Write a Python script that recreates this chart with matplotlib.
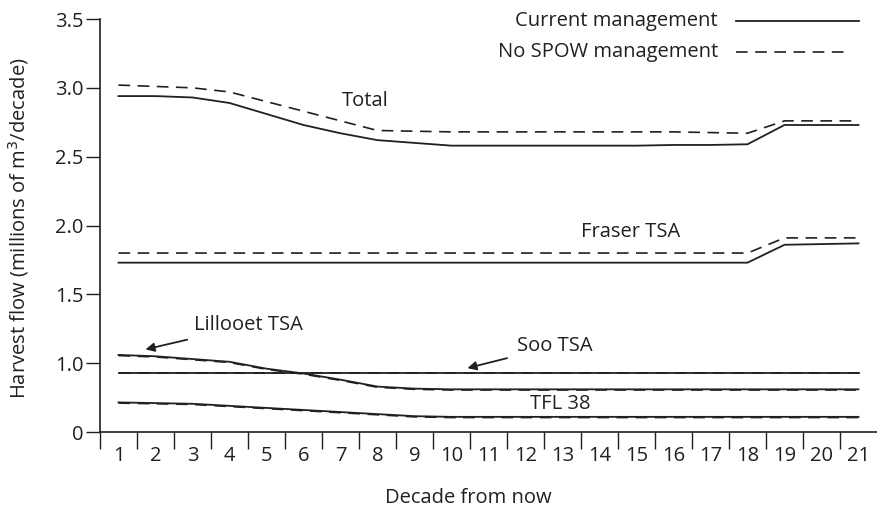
import numpy as np
import matplotlib
matplotlib.use("Agg")
import matplotlib.pyplot as plt

plt.rcParams['font.family'] = ['Open Sans', 'DejaVu Sans']

# decades 1..21
decades = np.arange(1, 22)

# values on the chart's visual scale (axis is broken: "0" sits where 0.5 would be)
total_cur = [2.94, 2.94, 2.93, 2.89, 2.81, 2.73, 2.67, 2.62, 2.60, 2.58, 2.58, 2.58, 2.58,
             2.58, 2.58, 2.585, 2.585, 2.59, 2.73, 2.73, 2.73]
total_nospow = [3.02, 3.01, 3.00, 2.97, 2.90, 2.83, 2.76, 2.69, 2.685, 2.68, 2.68, 2.68,
                2.68, 2.68, 2.68, 2.68, 2.675, 2.67, 2.76, 2.76, 2.76]
fraser_cur = [1.73] * 18 + [1.86, 1.865, 1.87]
fraser_nospow = [1.80] * 18 + [1.91, 1.91, 1.91]
lillooet_cur = [1.06, 1.05, 1.03, 1.01, 0.96, 0.925, 0.88, 0.83, 0.815] + [0.81] * 12
lillooet_nospow = [1.055, 1.045, 1.025, 1.005, 0.955, 0.92, 0.875, 0.825, 0.81] + [0.805] * 12
soo_cur = [0.93] * 21
soo_nospow = [0.925] * 21
tfl_cur = [0.715, 0.71, 0.705, 0.69, 0.675, 0.66, 0.645, 0.63, 0.615] + [0.61] * 12
tfl_nospow = [0.71, 0.705, 0.70, 0.685, 0.67, 0.655, 0.64, 0.625, 0.61] + [0.605] * 12

ytick_pos = [0.5, 1.0, 1.5, 2.0, 2.5, 3.0, 3.5]
ytick_labels = ['0', '1.0', '1.5', '2.0', '2.5', '3.0', '3.5']

ink = '#231f20'
fs = 14.5
dash = (7, 4.5)

fig = plt.figure(figsize=(8.77, 5.11), dpi=100)
ax = fig.add_axes([100 / 877, 79 / 511, 777 / 877, 413 / 511])

pairs = [(total_cur, total_nospow), (fraser_cur, fraser_nospow),
         (lillooet_cur, lillooet_nospow), (soo_cur, soo_nospow), (tfl_cur, tfl_nospow)]
for cur, nos in pairs:
    ax.plot(decades, nos, color=ink, lw=1.2, dashes=dash)
    ax.plot(decades, cur, color=ink, lw=1.3)

ax.set_xlim(0.5, 21.5)
ax.set_ylim(0.5, 3.5)
for s in ['top', 'right']:
    ax.spines[s].set_visible(False)
for s in ['left', 'bottom']:
    ax.spines[s].set_color(ink)
    ax.spines[s].set_linewidth(1.2)

ax.set_yticks(ytick_pos)
ax.set_yticklabels(ytick_labels)
ax.tick_params(axis='y', length=10, width=1, color=ink, labelsize=fs, labelcolor=ink, pad=2)

ax.set_xticks(np.arange(0.5, 21, 1))
ax.set_xticklabels([])
ax.set_xticks(decades, minor=True)
ax.set_xticklabels([str(d) for d in decades], minor=True)
ax.tick_params(axis='x', which='major', length=12, width=1, color=ink)
ax.tick_params(axis='x', which='minor', length=0, labelsize=fs, labelcolor=ink, pad=10)

ax.set_ylabel('Harvest flow (millions of m$^3$/decade)', fontsize=fs, color=ink)
ax.yaxis.set_label_coords(-69 / 777, 0.494)
ax.set_xlabel('Decade from now', fontsize=fs, color=ink)
ax.xaxis.set_label_coords(368 / 777, -56 / 413)

# legend drawn as in the original: text to the left of the line sample
ax.text(17.2, 3.486, 'Current management', ha='right', va='center', fontsize=fs, color=ink)
ax.plot([17.68, 21.0], [3.486, 3.486], color=ink, lw=1.3, clip_on=False)
ax.text(17.2, 3.26, 'No SPOW management', ha='right', va='center', fontsize=fs, color=ink)
ax.plot([17.68, 20.75], [3.26, 3.26], color=ink, lw=1.2, dashes=dash)

# series labels
ax.text(7.68, 2.906, 'Total', ha='center', va='center', fontsize=fs, color=ink)
ax.text(14.85, 1.955, 'Fraser TSA', ha='center', va='center', fontsize=fs, color=ink)
ax.text(12.95, 0.70, 'TFL 38', ha='center', va='center', fontsize=fs, color=ink)
ax.annotate('Lillooet TSA', xy=(1.73, 1.10), xytext=(3.05, 1.275), ha='left', va='center',
            fontsize=fs, color=ink,
            arrowprops=dict(arrowstyle='-|>', color=ink, lw=1.3, shrinkA=5, shrinkB=0,
                            mutation_scale=13))
ax.annotate('Soo TSA', xy=(10.43, 0.964), xytext=(11.76, 1.123), ha='left', va='center',
            fontsize=fs, color=ink,
            arrowprops=dict(arrowstyle='-|>', color=ink, lw=1.3, shrinkA=5, shrinkB=0,
                            mutation_scale=13))

fig.savefig('out.png', dpi=100)
